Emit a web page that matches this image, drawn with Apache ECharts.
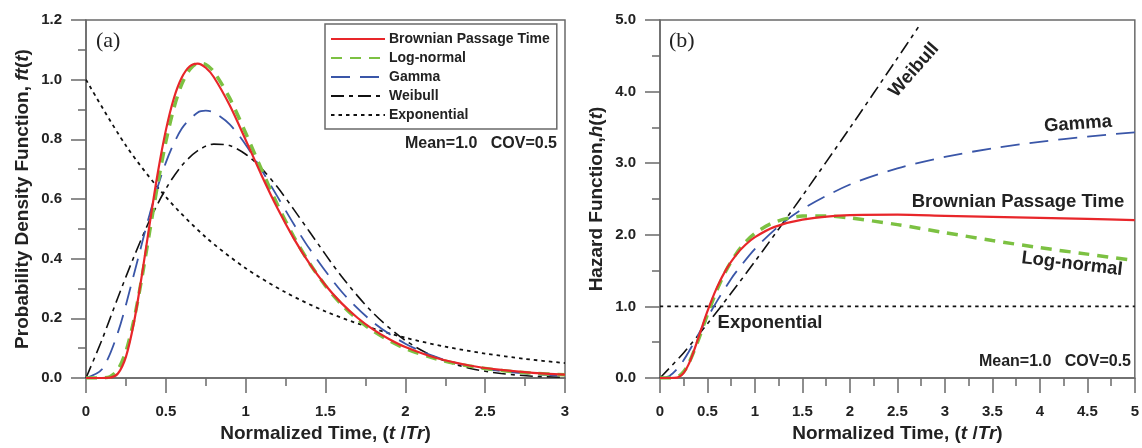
<!DOCTYPE html>
<html><head><meta charset="utf-8">
<script src="https://cdn.jsdelivr.net/npm/echarts@6/dist/echarts.min.js"></script>
<style>html,body{margin:0;padding:0;background:#fff}#c{width:1142px;height:448px}</style>
</head><body><div id="c"></div>
<script>
// ---- Panel (a): probability density ----
const bptPdfX = [0,0.1,0.15,0.2,0.25,0.3,0.35,0.4,0.45,0.5,0.55,0.6,0.65,0.7,0.75,0.8,0.9,1.0,1.1,1.2,1.3,1.4,1.5,1.6,1.7,1.8,1.9,2.0,2.2,2.4,2.6,2.8,3.0];
const bptPdfY = [0,0,0.001,0.015,0.071,0.185,0.345,0.521,0.689,0.830,0.937,1.007,1.045,1.054,1.040,1.009,0.914,0.798,0.679,0.568,0.469,0.383,0.311,0.251,0.202,0.162,0.130,0.104,0.066,0.042,0.027,0.017,0.011];
const lnPdfX = [0,0.1,0.15,0.2,0.25,0.3,0.35,0.4,0.45,0.5,0.55,0.6,0.65,0.7,0.75,0.8,0.9,1.0,1.1,1.2,1.3,1.4,1.5,1.6,1.7,1.8,1.9,2.0,2.2,2.4,2.6,2.8,3.0];
const lnPdfY = [0,0.0002,0.004,0.028,0.089,0.194,0.336,0.495,0.652,0.792,0.904,0.985,1.034,1.055,1.051,1.027,0.938,0.821,0.698,0.580,0.475,0.385,0.309,0.247,0.197,0.157,0.125,0.099,0.063,0.040,0.025,0.016,0.011];
const gamPdfX = [0,0.1,0.2,0.3,0.4,0.5,0.6,0.7,0.75,0.8,0.9,1.0,1.1,1.2,1.3,1.4,1.6,1.8,2.0,2.2,2.4,2.6,2.8,3.0];
const gamPdfY = [0,0.029,0.153,0.347,0.551,0.722,0.836,0.890,0.896,0.890,0.850,0.782,0.697,0.607,0.517,0.433,0.290,0.186,0.115,0.069,0.040,0.023,0.013,0.007];
const weiPdfX = [0,0.1,0.2,0.3,0.4,0.5,0.6,0.7,0.8,0.9,1.0,1.1,1.2,1.3,1.4,1.6,1.8,2.0,2.2,2.4,2.6,2.8,3.0];
const weiPdfY = [0,0.128,0.270,0.406,0.530,0.634,0.712,0.762,0.784,0.779,0.750,0.702,0.639,0.566,0.490,0.341,0.217,0.126,0.067,0.033,0.015,0.006,0.002];
const expPdfX = [0,0.25,0.5,0.75,1.0,1.25,1.5,1.75,2.0,2.25,2.5,2.75,3.0];
const expPdfY = [1,0.779,0.607,0.472,0.368,0.287,0.223,0.174,0.135,0.105,0.082,0.064,0.050];

// ---- Panel (b): hazard ----
const bptHazX = [0,0.1,0.15,0.2,0.25,0.3,0.35,0.4,0.5,0.6,0.7,0.8,0.9,1.0,1.2,1.5,2.0,2.5,3.0,3.5,4.0,4.5,5.0];
const bptHazY = [0,0,0.001,0.015,0.071,0.187,0.352,0.545,0.934,1.266,1.524,1.717,1.860,1.967,2.107,2.213,2.276,2.281,2.265,2.250,2.236,2.222,2.205];
const lnHazX = [0,0.1,0.15,0.2,0.25,0.3,0.4,0.5,0.6,0.7,0.8,0.9,1.0,1.2,1.5,1.75,2.0,2.5,3.0,3.5,4.0,4.5,5.0];
const lnHazY = [0,0,0.004,0.028,0.089,0.196,0.518,0.889,1.230,1.511,1.730,1.897,2.020,2.173,2.261,2.264,2.235,2.142,2.030,1.920,1.820,1.730,1.640];
const gamHazX = [0,0.1,0.2,0.25,0.3,0.4,0.5,0.6,0.75,0.8,1.0,1.25,1.5,2.0,2.5,3.0,3.5,4.0,4.5,5.0];
const gamHazY = [0,0.029,0.155,0.250,0.359,0.598,0.842,1.074,1.385,1.478,1.803,2.119,2.361,2.702,2.928,3.088,3.207,3.299,3.372,3.431];
const weiHazX = [0,0.25,0.5,0.75,1.0,1.25,1.5,2.0,2.5,2.72];
const weiHazY = [0,0.354,0.759,1.186,1.628,2.082,2.545,3.493,4.467,4.900];
const expHazX = [0,5];
const expHazY = [1,1];

const names = ['Brownian Passage Time','Log-normal','Gamma','Weibull','Exponential'];
const noteText = 'Mean=1.0   COV=0.5';

const zip = (xs, ys) => xs.map((x, i) => [x, ys[i]]);
const FONT = 'Liberation Sans, Arial, sans-serif';
const AX = '#6a6a6a';

const styles = [
  {color:'#e8262a', width:2.2, type:'solid'},
  {color:'#7cc142', width:3.5, type:[11,8]},
  {color:'#3a56a8', width:1.8, type:[19,10]},
  {color:'#111111', width:1.6, type:[13,5,4,5]},
  {color:'#111111', width:1.8, type:[3.5,4]}
];

function xAxis(gi, max, interval) {
  return {
    gridIndex: gi, type:'value', min:0, max:max, interval:interval,
    name:'{n|Normalized Time, (}{bi|t}{n| /}{i|Tr}{n|)}',
    nameLocation:'middle', nameGap:46,
    nameTextStyle:{rich:{
      n:{fontFamily:FONT,fontWeight:'bold',fontSize:19,color:'#222'},
      bi:{fontFamily:FONT,fontWeight:'bold',fontStyle:'italic',fontSize:19,color:'#222'},
      i:{fontFamily:FONT,fontWeight:'bold',fontStyle:'italic',fontSize:19,color:'#222'}}},
    axisLine:{show:true,onZero:false,lineStyle:{color:AX,width:1.5}},
    axisTick:{show:true,inside:false,length:15,lineStyle:{color:AX,width:1.5}},
    minorTick:{show:true,splitNumber:2,length:8,lineStyle:{color:AX,width:1.5}},
    splitLine:{show:false},
    axisLabel:{fontFamily:FONT,fontWeight:'bold',fontSize:15,color:'#222',margin:26}
  };
}
function yAxis(gi, max, interval, minorSplit, name, gap) {
  return {
    gridIndex: gi, type:'value', min:0, max:max, interval:interval,
    name:name, nameLocation:'middle', nameRotate:90, nameGap:gap,
    nameTextStyle:{rich:{
      n:{fontFamily:FONT,fontWeight:'bold',fontSize:19,color:'#222'},
      i:{fontFamily:FONT,fontWeight:'bold',fontStyle:'italic',fontSize:19,color:'#222'}}},
    axisLine:{show:true,onZero:false,lineStyle:{color:AX,width:1.5}},
    axisTick:{show:true,inside:false,length:15,lineStyle:{color:AX,width:1.5}},
    minorTick:{show:true,splitNumber:minorSplit,length:8,lineStyle:{color:AX,width:1.5}},
    splitLine:{show:false},
    axisLabel:{fontFamily:FONT,fontWeight:'bold',fontSize:15,color:'#222',margin:24,
      formatter:v=>v.toFixed(1)}
  };
}

const pdfData = [zip(bptPdfX,bptPdfY), zip(lnPdfX,lnPdfY), zip(gamPdfX,gamPdfY), zip(weiPdfX,weiPdfY), zip(expPdfX,expPdfY)];
const hazData = [zip(bptHazX,bptHazY), zip(lnHazX,lnHazY), zip(gamHazX,gamHazY), zip(weiHazX,weiHazY), zip(expHazX,expHazY)];

const series = [];
const order = [0,1,2,3,4];
[0,1].forEach(gi => {
  order.forEach(k => {
    series.push({
      name:names[k], type:'line', xAxisIndex:gi, yAxisIndex:gi,
      data: gi===0 ? pdfData[k] : hazData[k],
      showSymbol:false, symbol:'none', smooth:0.3,
      lineStyle:{color:styles[k].color,width:styles[k].width,type:styles[k].type},
      itemStyle:{color:styles[k].color},
      z: 10-k, silent:true, animation:false
    });
  });
});

const TXT = {fontFamily:FONT,fontWeight:'bold',fontSize:16,fill:'#222'};
const LBL = {fontFamily:FONT,fontWeight:'bold',fontSize:18.5,fill:'#222',align:'center',verticalAlign:'middle'};
const chart = echarts.init(document.getElementById('c'), null, {renderer:'canvas'});
chart.setOption({
  animation:false,
  backgroundColor:'#fff',
  grid:[
    {left:86,right:577,top:20,bottom:69,show:true,borderColor:AX,borderWidth:1.5},
    {left:660,right:5,top:20,bottom:69,show:true,borderColor:AX,borderWidth:1.5}
  ],
  xAxis:[xAxis(0,3,0.5), xAxis(1,5,0.5)],
  yAxis:[
    yAxis(0,1.2,0.2,2,'{n|Probability Density Function, }{i|ft}{n|(}{i|t}{n|)}',54),
    yAxis(1,5,1,2,'{n|Hazard Function,}{i|h}{n|(}{i|t}{n|)}',54)
  ],
  legend:{
    data:names, orient:'vertical', left:325, top:24,
    itemWidth:54, itemHeight:14, itemGap:5,
    padding:[8,7,7,5], borderColor:AX, borderWidth:1.5, backgroundColor:'#fff',
    itemStyle:{opacity:0},
    textStyle:{fontFamily:FONT,fontWeight:'bold',fontSize:14,color:'#222',padding:[0,0,0,-1]},
    selectedMode:false
  },
  series:series,
  graphic:[
    {type:'text',left:96,top:30,style:{text:'(a)',font:'22px "Liberation Serif", serif',fill:'#222'}},
    {type:'text',left:669,top:30,style:{text:'(b)',font:'22px "Liberation Serif", serif',fill:'#222'}},
    {type:'text',right:585,top:136,style:Object.assign({text:noteText},TXT)},
    {type:'text',right:11,top:354,style:Object.assign({text:noteText},TXT)},
    {type:'text',x:914,y:70,rotation:0.85,style:Object.assign({text:'Weibull'},LBL)},
    {type:'text',x:1078,y:124,rotation:0.07,style:Object.assign({text:'Gamma'},LBL)},
    {type:'text',x:1018,y:202,style:Object.assign({text:'Brownian Passage Time'},LBL)},
    {type:'text',x:1072,y:264,rotation:-0.12,style:Object.assign({text:'Log-normal'},LBL)},
    {type:'text',x:770,y:323,style:Object.assign({text:'Exponential'},LBL)}
  ]
});
</script></body></html>
